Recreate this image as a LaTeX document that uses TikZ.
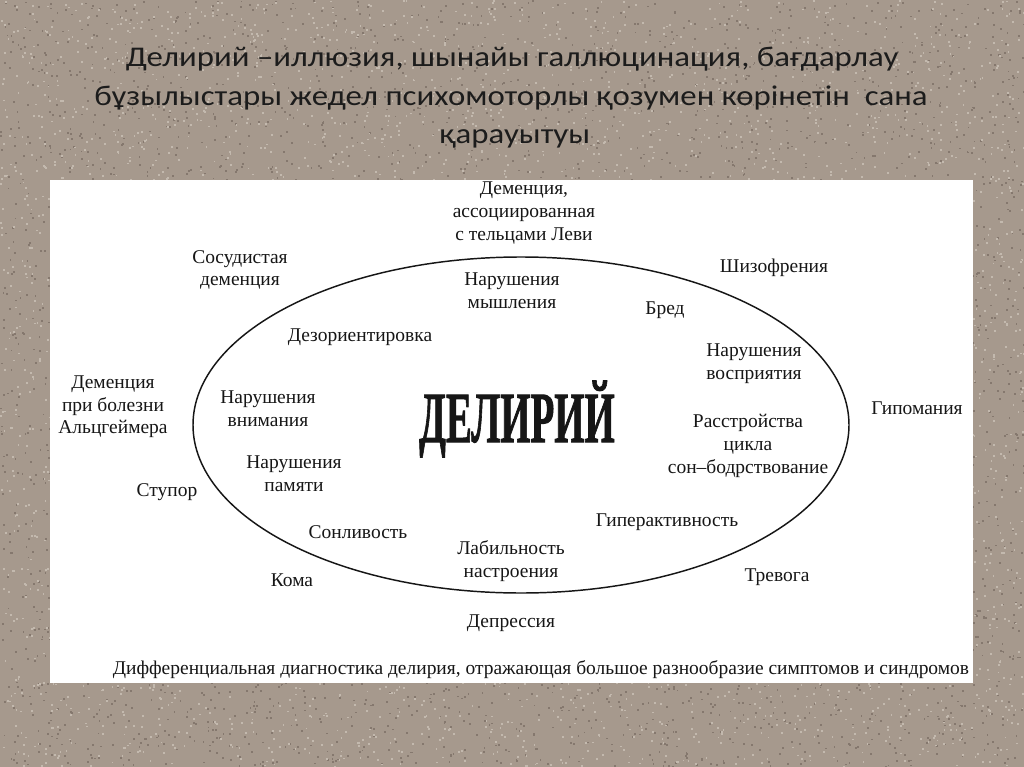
\documentclass[tikz,border=0pt]{standalone}
\usepackage{fontspec}
\setmainfont{Liberation Serif}
\newfontfamily\titlefont{Carlito}
\newfontfamily\bigfont[UprightFont={* Bold}, FakeBold=1.5]{Liberation Serif}
\usetikzlibrary{shapes.geometric}
\definecolor{granite}{HTML}{A6998D}
\definecolor{speckdark}{HTML}{85786E}
\definecolor{specklight}{HTML}{C3B9AE}
\definecolor{titleink}{HTML}{1C1C1C}
\definecolor{ink}{HTML}{161616}
\newcommand{\ttlline}[1]{\scalebox{1.15}[1]{#1}}
\tikzset{
  lbl/.style={font=\fontsize{14.6pt}{17pt}\selectfont, text=ink, align=center, inner sep=0pt},
  ttl/.style={font=\titlefont\fontsize{21.4pt}{26pt}\selectfont, text=titleink, inner sep=0pt, anchor=base},
  specka/.style={fill=speckdark},
  speckb/.style={fill=specklight},
}
\begin{document}
\begin{tikzpicture}[x=0.75pt,y=-0.75pt]
\useasboundingbox (0,0) rectangle (1024,767);
\fill[granite] (0,0) rectangle (1024,767);
\pgfmathsetseed{42}
\foreach \i in {1,...,5000} {\fill[specka] ({rnd*1024},{rnd*767}) rectangle +(1.8,1.8);}
\foreach \i in {1,...,5000} {\fill[speckb] ({rnd*1024},{rnd*767}) rectangle +(1.8,1.8);}
\fill[white] (50,180) rectangle (973,683);
\node[ttl] (title1) at (512,67) {\ttlline{Делирий –иллюзия, шынайы галлюцинация, бағдарлау}};
\node[ttl] (title2) at (511,105) {\ttlline{бұзылыстары жедел психомоторлы қозумен көрінетін\ \ сана}};
\node[ttl] (title3) at (515,143) {\ttlline{қарауытуы}};
\draw[line width=1.1pt, ink] (521,425) ellipse [x radius=328, y radius=168];
\node[inner sep=0pt, text=ink, anchor=base] (delirium) at (517,442) {\scalebox{0.54}[1]{\bigfont\fontsize{54pt}{54pt}\selectfont ДЕЛИРИЙ}};
\node[lbl] (lewy) at (524,213) {Деменция,\\ассоциированная\\с тельцами Леви};
\node[lbl] (vasc) at (240,270) {Сосудистая\\деменция};
\node[lbl] (think) at (512,291) {Нарушения\\мышления};
\node[lbl] (schizo) at (774,268) {Шизофрения};
\node[lbl] (delus) at (665,310) {Бред};
\node[lbl] (disor) at (360,337) {Дезориентировка};
\node[lbl] (percep) at (754,364) {Нарушения\\восприятия};
\node[lbl] (alz) at (113,407) {Деменция\\при болезни\\Альцгеймера};
\node[lbl] (attn) at (268,409) {Нарушения\\внимания};
\node[lbl] (hypom) at (917,408) {Гипомания};
\node[lbl] (sleep) at (748,446) {Расстройства\\цикла\\сон–бодрствование};
\node[lbl] (memory) at (294,474) {Нарушения\\памяти};
\node[lbl] (stupor) at (167,492) {Ступор};
\node[lbl] (somn) at (358,532) {Сонливость};
\node[lbl] (hyper) at (667,522) {Гиперактивность};
\node[lbl] (mood) at (511,561) {Лабильность\\настроения};
\node[lbl] (coma) at (292,580) {Кома};
\node[lbl] (anx) at (777,577) {Тревога};
\node[lbl] (depr) at (511,623) {Депрессия};
\node[lbl] (caption) at (541,670) {Дифференциальная диагностика делирия, отражающая большое разнообразие симптомов и синдромов};
\end{tikzpicture}
\end{document}
